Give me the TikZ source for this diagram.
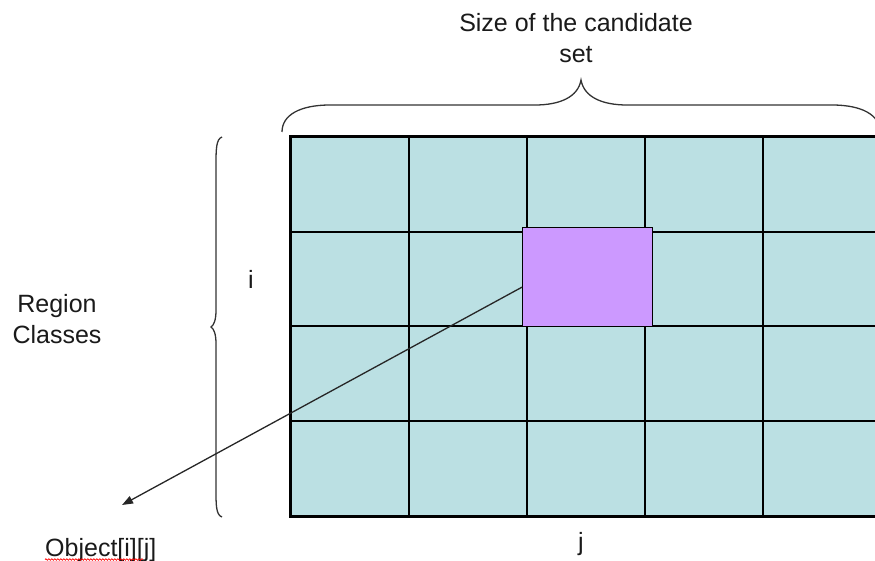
\documentclass[tikz,border=0pt]{standalone}
\usepackage{fontspec}
\setmainfont{Liberation Sans}
\usetikzlibrary{arrows.meta,decorations.pathmorphing}
\definecolor{cellcyan}{HTML}{BBE0E3}
\definecolor{objpurple}{HTML}{CC99FF}
\definecolor{txtgray}{HTML}{1A1A1A}
\definecolor{bracegray}{HTML}{333333}
\begin{document}
\begin{tikzpicture}[x=1pt,y=-1pt,
  lbl/.style={inner sep=0pt,font=\fontsize{25}{31}\selectfont,text=txtgray,align=center},
  bracestyle/.style={draw=bracegray,line width=1.3pt},
  gridline/.style={draw=black,line width=1.4pt},
  outer/.style={draw=black,line width=3pt},
  objbox/.style={draw=black,line width=1.3pt,fill=objpurple,inner sep=0pt,minimum width=130pt,minimum height=99pt},
  pointer/.style={draw=black!85,line width=1.3pt,-{Triangle[length=11pt,width=8pt]}}]
\useasboundingbox (0,0) rectangle (875,561);
\begin{scope}
\clip (0,0) rectangle (875,561);
% grid
\fill[cellcyan] (290,137) rectangle (885,516);
\foreach \x in {409,527,645,763} \draw[gridline] (\x,137) -- (\x,516);
\foreach \y in {232,326,421} \draw[gridline] (290,\y) -- (885,\y);
\draw[outer] (885,137) -- (290,137) -- (290,516) -- (885,516);
% top brace
\draw[bracestyle] (282,132) .. controls (282,115) and (300,105) .. (330,105) -- (535,105)
  .. controls (560,105) and (578,97) .. (581,80)
  .. controls (584,97) and (602,105) .. (627,105) -- (832,105)
  .. controls (862,105) and (880,115) .. (880,132);
\end{scope}
% left brace
\draw[bracestyle] (222,137) .. controls (216,139) and (216,150) .. (216,165) -- (216,310)
  .. controls (216,320) and (214,325) .. (211,327)
  .. controls (214,329) and (216,334) .. (216,344) -- (216,490)
  .. controls (216,505) and (216,515) .. (222,517);
% object cell
\node[objbox,anchor=north west] (obj) at (522,227) {};
\coordinate (tip) at (122,505);
\draw[pointer] (obj.west) ++(0,10) -- (tip);
% labels
\node[lbl,anchor=base] (size) at (576,63) {Size of the candidate\\set};
\node[lbl,anchor=base] (region) at (57,343) {Region\\Classes};
\node[lbl,anchor=base] (ilbl) at (251,288) {i};
\node[lbl,anchor=base] (jlbl) at (581,550) {j};
\node[lbl,anchor=base west] (objlbl) at (45,556) {Object[i][j]};
\draw[red,line width=0.7pt,decorate,decoration={snake,amplitude=0.8pt,segment length=3pt}] (45,559.5) -- (143,559.5);
\end{tikzpicture}
\end{document}
